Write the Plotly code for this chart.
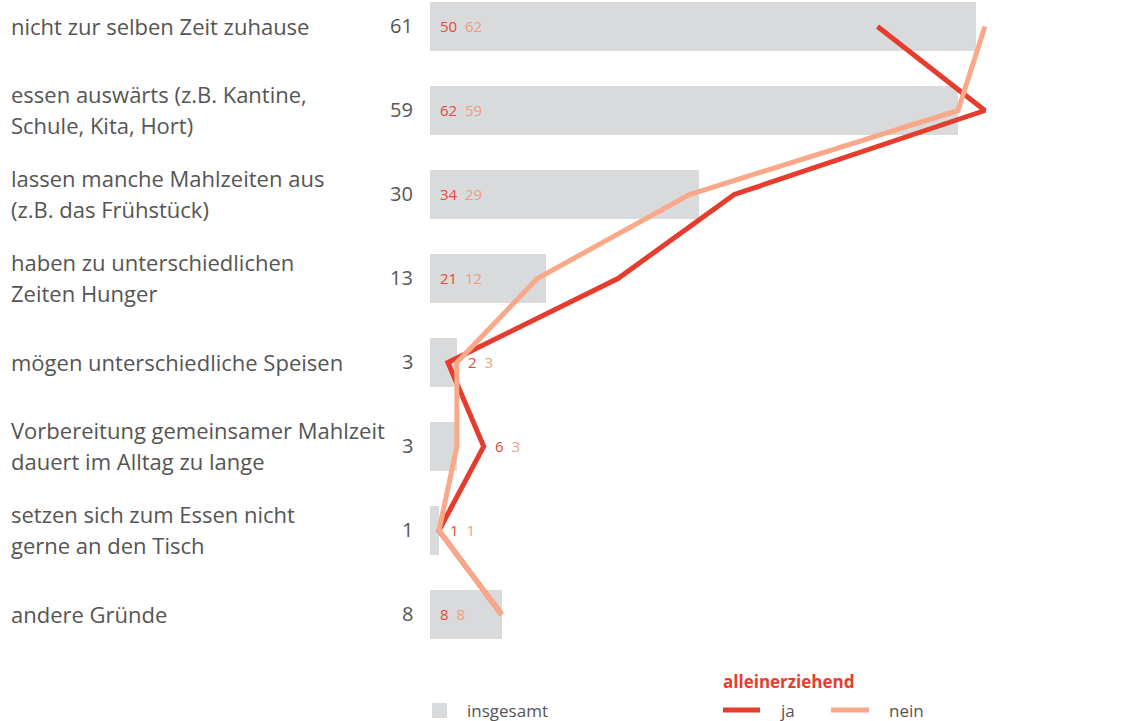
import plotly.graph_objects as go

# ---------------------------------------------------------------------------
# Data
# ---------------------------------------------------------------------------

categories = [
    "nicht zur selben Zeit zuhause",
    "essen auswärts (z.B. Kantine,<br>Schule, Kita, Hort)",
    "lassen manche Mahlzeiten aus<br>(z.B. das Frühstück)",
    "haben zu unterschiedlichen<br>Zeiten Hunger",
    "mögen unterschiedliche Speisen",
    "Vorbereitung gemeinsamer Mahlzeit<br>dauert im Alltag zu lange",
    "setzen sich zum Essen nicht<br>gerne an den Tisch",
    "andere Gründe",
]
insgesamt = [61, 59, 30, 13, 3, 3, 1, 8]
ja = [50, 62, 34, 21, 2, 6, 1, 8]
nein = [62, 59, 29, 12, 3, 3, 1, 8]

# ---------------------------------------------------------------------------
# Style
# ---------------------------------------------------------------------------

W, H = 1137, 721
LEFT, RIGHT = 430, 7
PX_PER_UNIT = 8.95
ROW_PX = 84
FIRST_ROW_PX = 26.5

FONT = "Open Sans"
TEXT_GREY = "#555555"
BAR_GREY = "#d9dadb"
RED = "#e63c2e"
SALMON = "#f9a88a"
RED_TXT = "#e8473a"
SALMON_TXT = "#f29b7e"

plot_w = W - LEFT - RIGHT
x_max = plot_w / PX_PER_UNIT
y_top = -FIRST_ROW_PX / ROW_PX
y_bottom = y_top + H / ROW_PX


# page pixel -> paper coordinates
def px_x(px):
    return (px - LEFT) / plot_w


def px_y(py):
    return 1 - py / H


rows = list(range(len(categories)))

fig = go.Figure()

fig.add_trace(go.Bar(
    y=rows, x=insgesamt, orientation="h", width=0.58,
    marker=dict(color=BAR_GREY, line=dict(width=0)),
    hoverinfo="skip", showlegend=False,
))
fig.add_trace(go.Scatter(
    x=ja, y=rows, mode="lines", line=dict(color=RED, width=5),
    hoverinfo="skip", showlegend=False,
))
fig.add_trace(go.Scatter(
    x=nein, y=rows, mode="lines", line=dict(color=SALMON, width=5),
    hoverinfo="skip", showlegend=False,
))

annotations = []
for i, label in enumerate(categories):
    # category label, one annotation per line for wider line spacing
    parts = label.split("<br>")
    n = len(parts)
    for k, part in enumerate(parts):
        annotations.append(dict(
            x=px_x(9), xref="paper", y=i, yref="y",
            text=part, showarrow=False, xanchor="left", yanchor="middle",
            yshift=(n - 1) * 15.5 - k * 31 + 1,
            font=dict(size=22, color=TEXT_GREY, family=FONT),
        ))
    # total value
    annotations.append(dict(
        x=px_x(415), xref="paper", y=i, yref="y",
        text=str(insgesamt[i]), showarrow=False, xanchor="right", yanchor="middle",
        yshift=1,
        font=dict(size=20, color=TEXT_GREY, family=FONT),
    ))
    # ja / nein values
    pair = (f"<span style='color:{RED_TXT}'>{ja[i]}</span>\u00a0\u00a0"
            f"<span style='color:{SALMON_TXT}'>{nein[i]}</span>")
    if insgesamt[i] <= 3:
        lx, shift = max(ja[i], nein[i]), 9
    else:
        lx, shift = 0, 8
    annotations.append(dict(
        x=lx, xref="x", y=i, yref="y", text=pair, showarrow=False,
        xanchor="left", yanchor="middle", xshift=shift, yshift=1,
        font=dict(size=15, color=RED_TXT, family=FONT),
    ))

# legend
legend_y = 710
annotations += [
    dict(x=px_x(465), xref="paper", y=px_y(legend_y), yref="paper", text="insgesamt",
         showarrow=False, xanchor="left", yanchor="middle",
         font=dict(size=17, color=TEXT_GREY, family=FONT)),
    dict(x=px_x(721), xref="paper", y=px_y(681), yref="paper", text="<b>alleinerziehend</b>",
         showarrow=False, xanchor="left", yanchor="middle",
         font=dict(size=17, color=RED, family=FONT)),
    dict(x=px_x(778), xref="paper", y=px_y(legend_y), yref="paper", text="ja",
         showarrow=False, xanchor="left", yanchor="middle",
         font=dict(size=17, color=TEXT_GREY, family=FONT)),
    dict(x=px_x(887), xref="paper", y=px_y(legend_y), yref="paper", text="nein",
         showarrow=False, xanchor="left", yanchor="middle",
         font=dict(size=17, color=TEXT_GREY, family=FONT)),
]

shapes = [
    dict(type="rect", xref="paper", yref="paper",
         x0=px_x(432), x1=px_x(447), y0=px_y(718), y1=px_y(703),
         fillcolor=BAR_GREY, line=dict(width=0)),
    dict(type="line", xref="paper", yref="paper",
         x0=px_x(723), x1=px_x(760), y0=px_y(legend_y), y1=px_y(legend_y),
         line=dict(color=RED, width=5)),
    dict(type="line", xref="paper", yref="paper",
         x0=px_x(831), x1=px_x(869), y0=px_y(legend_y), y1=px_y(legend_y),
         line=dict(color=SALMON, width=5)),
]

fig.update_layout(
    width=W, height=H,
    margin=dict(l=LEFT, r=RIGHT, t=0, b=0),
    paper_bgcolor="white", plot_bgcolor="white",
    font=dict(family=FONT, color=TEXT_GREY),
    xaxis=dict(range=[0, x_max], visible=False, fixedrange=True),
    yaxis=dict(range=[y_bottom, y_top], visible=False, fixedrange=True),
    annotations=annotations,
    shapes=shapes,
    showlegend=False,
    bargap=0,
)

# drop the default page margin so the figure fills the window exactly
fig.write_html(
    "out.html",
    config={"displayModeBar": False},
    post_script="document.body.style.margin='0';",
)
